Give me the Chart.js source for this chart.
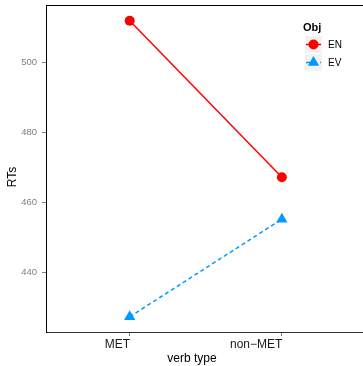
<!DOCTYPE html>
<html>
<head>
<meta charset="utf-8">
<script src="https://cdn.jsdelivr.net/npm/chart.js@4.4.0/dist/chart.umd.min.js"></script>
<style>
html, body { margin: 0; padding: 0; background: #fff; }
#chart { display: block; }
</style>
</head>
<body>
<canvas id="chart" width="363" height="366"></canvas>
<script>
// data
const categories = ['MET', 'non\u2212MET'];
const seriesNames = ['EN', 'EV'];
const enValues = [511.8, 467.1];
const evValues = [427.2, 455.1];
const yTicks = [440, 460, 480, 500];
const legendTitle = 'Obj';
const xTitle = 'verb type';
const yTitle = 'RTs';

const FONT = '"Liberation Sans", Arial, sans-serif';
const RED = '#ff0000';
const BLUE = '#0099ff';

function toPoints(values) {
    return values.map((v, i) => ({ x: i + 1, y: v }));
}

function noPadding(s) {
    s.paddingTop = 0;
    s.paddingBottom = 0;
    s.paddingLeft = 0;
    s.paddingRight = 0;
}

// top border, x labels (right aligned on the tick like the original), titles, legend
const decorations = {
    id: 'decorations',
    afterDraw(chart) {
        const ctx = chart.ctx;
        const a = chart.chartArea;
        const xs = chart.scales.x;
        ctx.save();

        ctx.strokeStyle = '#000';
        ctx.lineWidth = 1;
        ctx.beginPath();
        ctx.moveTo(a.left, a.top + 0.5);
        ctx.lineTo(a.right, a.top + 0.5);
        ctx.stroke();

        ctx.fillStyle = '#1a1a1a';
        ctx.font = '12px ' + FONT;
        ctx.textAlign = 'right';
        ctx.textBaseline = 'middle';
        xs.ticks.forEach(t => {
            ctx.fillText(categories[t.value - 1], xs.getPixelForValue(t.value) + 0.5, a.bottom + 13);
        });

        ctx.fillStyle = '#000';
        ctx.textAlign = 'center';
        ctx.fillText(xTitle, 192, 359);
        ctx.save();
        ctx.translate(13, 177);
        ctx.rotate(-Math.PI / 2);
        ctx.fillText(yTitle, 0, 0);
        ctx.restore();

        // legend
        ctx.textAlign = 'left';
        ctx.font = 'bold 11px ' + FONT;
        ctx.fillText(legendTitle, 303, 28);
        ctx.font = '10px ' + FONT;
        chart.data.datasets.forEach((ds, i) => {
            const top = 36 + i * 18;
            const cy = top + 8.5;
            ctx.fillStyle = '#f2f2f2';
            ctx.fillRect(305, top, 17, 17);
            ctx.strokeStyle = ds.borderColor;
            ctx.lineWidth = ds.borderWidth;
            ctx.setLineDash(ds.borderDash || []);
            ctx.beginPath();
            ctx.moveTo(306, cy);
            ctx.lineTo(321, cy);
            ctx.stroke();
            ctx.setLineDash([]);
            ctx.fillStyle = ds.pointBackgroundColor;
            Chart.helpers.drawPoint(ctx, {
                pointStyle: ds.pointStyle,
                radius: ds.pointRadius,
                borderWidth: 0,
                rotation: 0
            }, 313.5, cy);
            ctx.fillStyle = '#000';
            ctx.fillText(ds.label, 328, cy + 0.5);
        });
        ctx.restore();
    }
};

new Chart(document.getElementById('chart'), {
    type: 'line',
    data: {
        datasets: [
            {
                label: seriesNames[0],
                data: toPoints(enValues),
                borderColor: RED,
                backgroundColor: RED,
                pointBackgroundColor: RED,
                pointBorderWidth: 0,
                pointStyle: 'circle',
                pointRadius: 5,
                borderWidth: 1.5,
                clip: false
            },
            {
                label: seriesNames[1],
                data: toPoints(evValues),
                borderColor: BLUE,
                backgroundColor: BLUE,
                pointBackgroundColor: BLUE,
                pointBorderWidth: 0,
                pointStyle: 'triangle',
                pointRadius: 6.5,
                borderWidth: 1.5,
                borderDash: [4, 3],
                clip: false
            }
        ]
    },
    options: {
        responsive: false,
        animation: false,
        events: [],
        layout: { autoPadding: false, padding: { top: 5, left: 0, right: 0, bottom: 0 } },
        plugins: {
            legend: { display: false },
            tooltip: { enabled: false }
        },
        scales: {
            x: {
                type: 'linear',
                min: 0.45,
                max: 2.533,
                afterBuildTicks: s => { s.ticks = categories.map((c, i) => ({ value: i + 1 })); },
                afterFit: s => { s.height = 34; noPadding(s); },
                grid: { drawOnChartArea: false, drawTicks: true, tickLength: 4, color: '#7f7f7f' },
                border: { color: '#333', width: 1 },
                ticks: { display: false }
            },
            y: {
                min: 422.86,
                max: 516.3,
                afterBuildTicks: s => { s.ticks = yTicks.map(v => ({ value: v })); },
                afterFit: s => { s.width = 46; noPadding(s); },
                grid: { drawOnChartArea: false, drawTicks: true, tickLength: 4, color: '#7f7f7f' },
                border: { color: '#000', width: 1 },
                ticks: {
                    color: '#7f7f7f',
                    font: { family: FONT, size: 9.5 },
                    padding: 5
                }
            }
        }
    },
    plugins: [decorations]
});
</script>
</body>
</html>
